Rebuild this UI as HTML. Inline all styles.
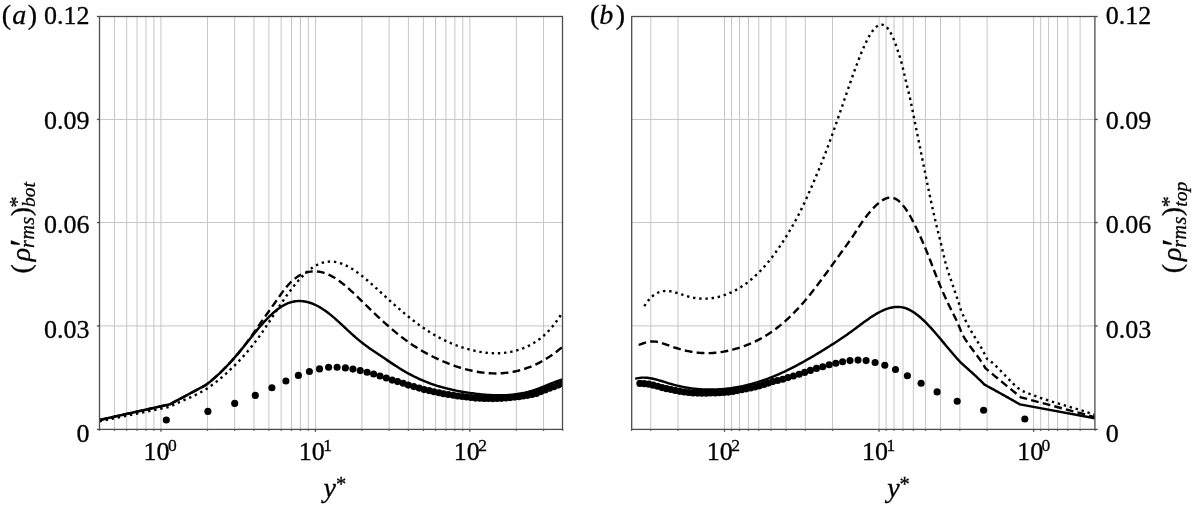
<!DOCTYPE html>
<html><head><meta charset="utf-8"><title>rho rms profiles</title>
<style>html,body{margin:0;padding:0;background:#fff;width:1195px;height:506px;overflow:hidden}svg{display:block}</style>
</head><body>
<svg width="1195" height="506" viewBox="0 0 1195 506">
<rect width="1195" height="506" fill="#fff"/>
<g stroke="#c6c6c6" stroke-width="1"><line x1="114.46" y1="16.5" x2="114.46" y2="429.4"/><line x1="126.69" y1="16.5" x2="126.69" y2="429.4"/><line x1="137.03" y1="16.5" x2="137.03" y2="429.4"/><line x1="145.98" y1="16.5" x2="145.98" y2="429.4"/><line x1="153.88" y1="16.5" x2="153.88" y2="429.4"/><line x1="160.95" y1="16.5" x2="160.95" y2="429.4"/><line x1="207.44" y1="16.5" x2="207.44" y2="429.4"/><line x1="234.64" y1="16.5" x2="234.64" y2="429.4"/><line x1="253.94" y1="16.5" x2="253.94" y2="429.4"/><line x1="268.91" y1="16.5" x2="268.91" y2="429.4"/><line x1="281.14" y1="16.5" x2="281.14" y2="429.4"/><line x1="291.48" y1="16.5" x2="291.48" y2="429.4"/><line x1="300.43" y1="16.5" x2="300.43" y2="429.4"/><line x1="308.33" y1="16.5" x2="308.33" y2="429.4"/><line x1="315.4" y1="16.5" x2="315.4" y2="429.4"/><line x1="361.89" y1="16.5" x2="361.89" y2="429.4"/><line x1="389.09" y1="16.5" x2="389.09" y2="429.4"/><line x1="408.39" y1="16.5" x2="408.39" y2="429.4"/><line x1="423.36" y1="16.5" x2="423.36" y2="429.4"/><line x1="435.59" y1="16.5" x2="435.59" y2="429.4"/><line x1="445.93" y1="16.5" x2="445.93" y2="429.4"/><line x1="454.88" y1="16.5" x2="454.88" y2="429.4"/><line x1="462.78" y1="16.5" x2="462.78" y2="429.4"/><line x1="469.85" y1="16.5" x2="469.85" y2="429.4"/><line x1="516.34" y1="16.5" x2="516.34" y2="429.4"/><line x1="543.54" y1="16.5" x2="543.54" y2="429.4"/><line x1="99.5" y1="325.95" x2="562.5" y2="325.95"/><line x1="99.5" y1="222.55" x2="562.5" y2="222.55"/><line x1="99.5" y1="119.45" x2="562.5" y2="119.45"/><line x1="1080.12" y1="16.5" x2="1080.12" y2="429.4"/><line x1="1067.89" y1="16.5" x2="1067.89" y2="429.4"/><line x1="1057.54" y1="16.5" x2="1057.54" y2="429.4"/><line x1="1048.58" y1="16.5" x2="1048.58" y2="429.4"/><line x1="1040.67" y1="16.5" x2="1040.67" y2="429.4"/><line x1="1033.6" y1="16.5" x2="1033.6" y2="429.4"/><line x1="987.08" y1="16.5" x2="987.08" y2="429.4"/><line x1="959.86" y1="16.5" x2="959.86" y2="429.4"/><line x1="940.55" y1="16.5" x2="940.55" y2="429.4"/><line x1="925.57" y1="16.5" x2="925.57" y2="429.4"/><line x1="913.34" y1="16.5" x2="913.34" y2="429.4"/><line x1="902.99" y1="16.5" x2="902.99" y2="429.4"/><line x1="894.03" y1="16.5" x2="894.03" y2="429.4"/><line x1="886.12" y1="16.5" x2="886.12" y2="429.4"/><line x1="879.05" y1="16.5" x2="879.05" y2="429.4"/><line x1="832.53" y1="16.5" x2="832.53" y2="429.4"/><line x1="805.31" y1="16.5" x2="805.31" y2="429.4"/><line x1="786" y1="16.5" x2="786" y2="429.4"/><line x1="771.02" y1="16.5" x2="771.02" y2="429.4"/><line x1="758.79" y1="16.5" x2="758.79" y2="429.4"/><line x1="748.44" y1="16.5" x2="748.44" y2="429.4"/><line x1="739.48" y1="16.5" x2="739.48" y2="429.4"/><line x1="731.57" y1="16.5" x2="731.57" y2="429.4"/><line x1="724.5" y1="16.5" x2="724.5" y2="429.4"/><line x1="677.98" y1="16.5" x2="677.98" y2="429.4"/><line x1="650.76" y1="16.5" x2="650.76" y2="429.4"/><line x1="631.7" y1="325.95" x2="1094.9" y2="325.95"/><line x1="631.7" y1="222.55" x2="1094.9" y2="222.55"/><line x1="631.7" y1="119.45" x2="1094.9" y2="119.45"/></g>
<defs><clipPath id="ca"><rect x="99.5" y="-13.5" width="463" height="442.9"/></clipPath><clipPath id="cb"><rect x="631.7" y="-13.5" width="463.2" height="442.9"/></clipPath></defs><g clip-path="url(#ca)"><path d="M99.5,421.2 170.1,406.7 171.6,405.92 173.1,405.17 174.59,404.44 176.09,403.73 177.59,403.03 179.09,402.35 180.58,401.68 182.08,401.01 183.58,400.36 185.08,399.7 186.57,399.04 188.07,398.38 189.57,397.71 191.07,397.04 192.57,396.35 194.06,395.64 195.56,394.92 197.06,394.18 198.56,393.42 200.05,392.63 201.55,391.81 203.05,390.96 204.55,390.07 206.05,389.15 207.54,388.19 209.04,387.19 210.54,386.15 212.04,385.08 213.53,383.97 215.03,382.83 216.53,381.66 218.03,380.46 219.52,379.23 221.02,377.97 222.52,376.68 224.02,375.37 225.52,374.03 227.01,372.67 228.51,371.29 230.01,369.88 231.51,368.46 233,367.01 234.5,365.53 236,364.03 237.5,362.51 238.99,360.96 240.49,359.37 241.99,357.76 243.49,356.11 244.99,354.43 246.48,352.72 247.98,350.97 249.48,349.18 250.98,347.36 252.47,345.49 253.97,343.58 255.47,341.63 256.97,339.64 258.46,337.6 259.96,335.51 261.46,333.38 262.96,331.21 264.46,329.01 265.95,326.77 267.45,324.52 268.95,322.24 270.45,319.95 271.94,317.65 273.44,315.35 274.94,313.05 276.44,310.76 277.94,308.47 279.43,306.21 280.93,303.96 282.43,301.75 283.93,299.56 285.42,297.4 286.92,295.28 288.42,293.2 289.92,291.17 291.41,289.18 292.91,287.23 294.41,285.35 295.91,283.52 297.41,281.75 298.9,280.04 300.4,278.39 301.9,276.81 303.4,275.29 304.89,273.84 306.39,272.47 307.89,271.16 309.39,269.93 310.88,268.78 312.38,267.71 313.88,266.72 315.38,265.81 316.88,264.98 318.37,264.25 319.87,263.6 321.37,263.04 322.87,262.57 324.36,262.2 325.86,261.91 327.36,261.71 328.86,261.59 330.35,261.55 331.85,261.59 333.35,261.71 334.85,261.91 336.35,262.18 337.84,262.52 339.34,262.93 340.84,263.4 342.34,263.94 343.83,264.55 345.33,265.21 346.83,265.93 348.33,266.71 349.83,267.54 351.32,268.42 352.82,269.35 354.32,270.33 355.82,271.34 357.31,272.4 358.81,273.5 360.31,274.63 361.81,275.8 363.3,276.99 364.8,278.22 366.3,279.47 367.8,280.74 369.3,282.04 370.79,283.35 372.29,284.68 373.79,286.02 375.29,287.37 376.78,288.74 378.28,290.1 379.78,291.48 381.28,292.85 382.77,294.22 384.27,295.59 385.77,296.96 387.27,298.32 388.77,299.67 390.26,301.02 391.76,302.37 393.26,303.7 394.76,305.03 396.25,306.35 397.75,307.66 399.25,308.96 400.75,310.25 402.25,311.53 403.74,312.8 405.24,314.05 406.74,315.29 408.24,316.52 409.73,317.73 411.23,318.92 412.73,320.1 414.23,321.26 415.72,322.41 417.22,323.53 418.72,324.64 420.22,325.73 421.72,326.79 423.21,327.84 424.71,328.86 426.21,329.86 427.71,330.84 429.2,331.79 430.7,332.72 432.2,333.63 433.7,334.52 435.19,335.38 436.69,336.22 438.19,337.04 439.69,337.84 441.19,338.62 442.68,339.38 444.18,340.11 445.68,340.83 447.18,341.52 448.67,342.19 450.17,342.84 451.67,343.48 453.17,344.09 454.66,344.68 456.16,345.25 457.66,345.81 459.16,346.34 460.66,346.85 462.15,347.35 463.65,347.82 465.15,348.28 466.65,348.72 468.14,349.14 469.64,349.54 471.14,349.93 472.64,350.29 474.14,350.64 475.63,350.97 477.13,351.28 478.63,351.57 480.13,351.84 481.62,352.09 483.12,352.31 484.62,352.52 486.12,352.7 487.61,352.85 489.11,352.98 490.61,353.09 492.11,353.17 493.61,353.23 495.1,353.26 496.6,353.26 498.1,353.24 499.6,353.19 501.09,353.1 502.59,352.99 504.09,352.85 505.59,352.68 507.08,352.48 508.58,352.24 510.08,351.98 511.58,351.68 513.08,351.34 514.57,350.98 516.07,350.58 517.57,350.14 519.07,349.67 520.56,349.16 522.06,348.61 523.56,348.03 525.06,347.41 526.55,346.75 528.05,346.05 529.55,345.31 531.05,344.52 532.55,343.69 534.04,342.8 535.54,341.86 537.04,340.86 538.54,339.8 540.03,338.68 541.53,337.49 543.03,336.23 544.53,334.91 546.03,333.5 547.52,332.02 549.02,330.46 550.52,328.82 552.02,327.09 553.51,325.26 555.01,323.35 556.51,321.34 558.01,319.24 559.5,317.03 561,314.72 562.5,312.3" fill="none" stroke="#000" stroke-width="2.4" stroke-dasharray="2.4 3.8"/><path d="M99.5,420 170.1,404.2 205.6,385.2 207.1,384.02 208.6,382.81 210.1,381.58 211.6,380.33 213.1,379.05 214.6,377.75 216.1,376.42 217.6,375.07 219.1,373.69 220.6,372.28 222.1,370.84 223.59,369.37 225.09,367.88 226.59,366.35 228.09,364.79 229.59,363.2 231.09,361.58 232.59,359.92 234.09,358.23 235.59,356.51 237.09,354.75 238.59,352.95 240.09,351.12 241.59,349.25 243.09,347.34 244.59,345.39 246.09,343.4 247.59,341.38 249.09,339.32 250.59,337.23 252.09,335.12 253.59,332.99 255.09,330.85 256.59,328.71 258.09,326.56 259.58,324.41 261.08,322.27 262.58,320.14 264.08,318.02 265.58,315.9 267.08,313.79 268.58,311.68 270.08,309.57 271.58,307.46 273.08,305.34 274.58,303.22 276.08,301.09 277.58,298.96 279.08,296.83 280.58,294.72 282.08,292.66 283.58,290.65 285.08,288.72 286.58,286.87 288.08,285.13 289.58,283.5 291.08,281.98 292.58,280.58 294.08,279.29 295.57,278.11 297.07,277.03 298.57,276.05 300.07,275.17 301.57,274.39 303.07,273.7 304.57,273.11 306.07,272.61 307.57,272.2 309.07,271.87 310.57,271.62 312.07,271.46 313.57,271.37 315.07,271.36 316.57,271.43 318.07,271.57 319.57,271.79 321.07,272.08 322.57,272.44 324.07,272.88 325.57,273.39 327.07,273.96 328.57,274.6 330.07,275.31 331.56,276.09 333.06,276.93 334.56,277.83 336.06,278.78 337.56,279.79 339.06,280.85 340.56,281.95 342.06,283.1 343.56,284.3 345.06,285.53 346.56,286.8 348.06,288.1 349.56,289.43 351.06,290.79 352.56,292.17 354.06,293.58 355.56,295 357.06,296.44 358.56,297.9 360.06,299.36 361.56,300.83 363.06,302.3 364.56,303.78 366.06,305.25 367.55,306.72 369.05,308.18 370.55,309.64 372.05,311.08 373.55,312.52 375.05,313.95 376.55,315.36 378.05,316.77 379.55,318.17 381.05,319.55 382.55,320.92 384.05,322.28 385.55,323.62 387.05,324.96 388.55,326.27 390.05,327.57 391.55,328.86 393.05,330.13 394.55,331.38 396.05,332.62 397.55,333.83 399.05,335.03 400.55,336.21 402.04,337.37 403.54,338.51 405.04,339.63 406.54,340.73 408.04,341.81 409.54,342.86 411.04,343.89 412.54,344.91 414.04,345.9 415.54,346.87 417.04,347.82 418.54,348.75 420.04,349.66 421.54,350.55 423.04,351.42 424.54,352.27 426.04,353.11 427.54,353.92 429.04,354.72 430.54,355.5 432.04,356.26 433.54,357.01 435.04,357.73 436.54,358.44 438.03,359.14 439.53,359.82 441.03,360.48 442.53,361.13 444.03,361.76 445.53,362.38 447.03,362.98 448.53,363.57 450.03,364.14 451.53,364.7 453.03,365.25 454.53,365.78 456.03,366.29 457.53,366.79 459.03,367.28 460.53,367.74 462.03,368.2 463.53,368.63 465.03,369.05 466.53,369.45 468.03,369.83 469.53,370.2 471.03,370.54 472.53,370.87 474.02,371.18 475.52,371.47 477.02,371.75 478.52,372 480.02,372.23 481.52,372.45 483.02,372.64 484.52,372.81 486.02,372.97 487.52,373.1 489.02,373.21 490.52,373.29 492.02,373.36 493.52,373.41 495.02,373.43 496.52,373.43 498.02,373.4 499.52,373.36 501.02,373.29 502.52,373.19 504.02,373.07 505.52,372.93 507.02,372.76 508.52,372.57 510.01,372.36 511.51,372.11 513.01,371.84 514.51,371.55 516.01,371.23 517.51,370.88 519.01,370.51 520.51,370.11 522.01,369.68 523.51,369.23 525.01,368.74 526.51,368.23 528.01,367.69 529.51,367.12 531.01,366.52 532.51,365.9 534.01,365.24 535.51,364.56 537.01,363.84 538.51,363.09 540.01,362.32 541.51,361.51 543.01,360.67 544.51,359.8 546,358.9 547.5,357.96 549,356.99 550.5,356 552,354.96 553.5,353.9 555,352.8 556.5,351.67 558,350.5 559.5,349.3 561,348.07 562.5,346.8" fill="none" stroke="#000" stroke-width="2.4" stroke-dasharray="7.8 4.2"/><path d="M99.5,420 170.1,404.2 205.6,385.2 207.1,384.07 208.6,382.9 210.1,381.7 211.6,380.46 213.1,379.19 214.6,377.89 216.1,376.55 217.6,375.18 219.1,373.78 220.6,372.35 222.1,370.88 223.59,369.39 225.09,367.86 226.59,366.31 228.09,364.73 229.59,363.12 231.09,361.48 232.59,359.81 234.09,358.12 235.59,356.4 237.09,354.66 238.59,352.89 240.09,351.09 241.59,349.27 243.09,347.43 244.59,345.57 246.09,343.7 247.59,341.81 249.09,339.93 250.59,338.05 252.09,336.17 253.59,334.31 255.09,332.46 256.59,330.63 258.09,328.83 259.58,327.06 261.08,325.33 262.58,323.63 264.08,321.97 265.58,320.35 267.08,318.78 268.58,317.26 270.08,315.79 271.58,314.37 273.08,313.01 274.58,311.72 276.08,310.48 277.58,309.31 279.08,308.21 280.58,307.18 282.08,306.23 283.58,305.36 285.08,304.56 286.58,303.85 288.08,303.22 289.58,302.67 291.08,302.21 292.58,301.82 294.08,301.51 295.57,301.28 297.07,301.13 298.57,301.05 300.07,301.04 301.57,301.11 303.07,301.25 304.57,301.46 306.07,301.73 307.57,302.08 309.07,302.49 310.57,302.96 312.07,303.5 313.57,304.1 315.07,304.76 316.57,305.49 318.07,306.27 319.57,307.11 321.07,308 322.57,308.95 324.07,309.94 325.57,310.99 327.07,312.08 328.57,313.22 330.07,314.4 331.56,315.62 333.06,316.87 334.56,318.16 336.06,319.48 337.56,320.83 339.06,322.19 340.56,323.57 342.06,324.96 343.56,326.36 345.06,327.75 346.56,329.15 348.06,330.54 349.56,331.92 351.06,333.29 352.56,334.65 354.06,335.99 355.56,337.31 357.06,338.6 358.56,339.87 360.06,341.12 361.56,342.32 363.06,343.5 364.56,344.64 366.06,345.75 367.55,346.84 369.05,347.91 370.55,348.95 372.05,349.99 373.55,351.01 375.05,352.02 376.55,353.03 378.05,354.04 379.55,355.04 381.05,356.06 382.55,357.07 384.05,358.09 385.55,359.1 387.05,360.12 388.55,361.13 390.05,362.13 391.55,363.13 393.05,364.13 394.55,365.11 396.05,366.08 397.55,367.04 399.05,367.99 400.55,368.92 402.04,369.84 403.54,370.74 405.04,371.62 406.54,372.48 408.04,373.32 409.54,374.13 411.04,374.93 412.54,375.71 414.04,376.47 415.54,377.21 417.04,377.92 418.54,378.62 420.04,379.3 421.54,379.97 423.04,380.61 424.54,381.23 426.04,381.84 427.54,382.42 429.04,382.99 430.54,383.54 432.04,384.08 433.54,384.59 435.04,385.1 436.54,385.58 438.03,386.05 439.53,386.5 441.03,386.94 442.53,387.37 444.03,387.77 445.53,388.17 447.03,388.55 448.53,388.92 450.03,389.28 451.53,389.62 453.03,389.95 454.53,390.27 456.03,390.58 457.53,390.87 459.03,391.16 460.53,391.43 462.03,391.7 463.53,391.95 465.03,392.2 466.53,392.43 468.03,392.66 469.53,392.88 471.03,393.09 472.53,393.3 474.02,393.49 475.52,393.68 477.02,393.86 478.52,394.04 480.02,394.2 481.52,394.36 483.02,394.5 484.52,394.64 486.02,394.77 487.52,394.88 489.02,394.99 490.52,395.08 492.02,395.15 493.52,395.22 495.02,395.27 496.52,395.31 498.02,395.33 499.52,395.34 501.02,395.33 502.52,395.31 504.02,395.27 505.52,395.21 507.02,395.13 508.52,395.04 510.01,394.93 511.51,394.79 513.01,394.64 514.51,394.47 516.01,394.28 517.51,394.06 519.01,393.83 520.51,393.57 522.01,393.29 523.51,392.98 525.01,392.66 526.51,392.3 528.01,391.93 529.51,391.52 531.01,391.09 532.51,390.64 534.01,390.16 535.51,389.65 537.01,389.11 538.51,388.56 540.01,387.98 541.51,387.4 543.01,386.8 544.51,386.19 546,385.58 547.5,384.96 549,384.35 550.5,383.74 552,383.15 553.5,382.56 555,381.99 556.5,381.44 558,380.92 559.5,380.41 561,379.94 562.5,379.5" fill="none" stroke="#000" stroke-width="2.45" stroke-linejoin="round"/><g fill="#000"><circle cx="166.3" cy="420" r="3.55"/><circle cx="207.9" cy="411.4" r="3.55"/><circle cx="234.7" cy="403.4" r="3.55"/><circle cx="255.3" cy="395.4" r="3.55"/><circle cx="271.9" cy="387.7" r="3.55"/><circle cx="285.9" cy="381" r="3.55"/><circle cx="298.4" cy="375.4" r="3.55"/><circle cx="309.4" cy="371.5" r="3.55"/><circle cx="319.5" cy="368.9" r="3.55"/><circle cx="328.6" cy="367.3" r="3.55"/><circle cx="337.1" cy="367.3" r="3.55"/><circle cx="345.4" cy="367.9" r="3.55"/><circle cx="352.9" cy="369.1" r="3.55"/><circle cx="360.2" cy="370.6" r="3.55"/><circle cx="367.1" cy="372.2" r="3.55"/><circle cx="373.6" cy="374" r="3.55"/><circle cx="380" cy="376" r="3.55"/><circle cx="386.3" cy="378" r="3.55"/><circle cx="392.2" cy="380.1" r="3.55"/><circle cx="397.6" cy="381.6" r="3.55"/><circle cx="403.2" cy="383.2" r="3.55"/><circle cx="408.3" cy="385.1" r="3.55"/><circle cx="413.8" cy="386.6" r="3.55"/><circle cx="419.2" cy="388.1" r="3.55"/><circle cx="424.1" cy="389.6" r="3.55"/><circle cx="429.1" cy="390.6" r="3.55"/><circle cx="434" cy="391.7" r="3.55"/><circle cx="439" cy="392.8" r="3.55"/><circle cx="443.4" cy="393.7" r="3.55"/><circle cx="448.3" cy="394.5" r="3.55"/><circle cx="453.3" cy="395.3" r="3.55"/><circle cx="457.7" cy="396" r="3.55"/><circle cx="462.2" cy="396.5" r="3.55"/><circle cx="466.6" cy="397" r="3.55"/><circle cx="471" cy="397.5" r="3.55"/><circle cx="475.36" cy="398.12" r="3.55"/><circle cx="479.71" cy="398.31" r="3.55"/><circle cx="484.07" cy="398.45" r="3.55"/><circle cx="488.43" cy="398.55" r="3.55"/><circle cx="492.79" cy="398.59" r="3.55"/><circle cx="497.14" cy="398.57" r="3.55"/><circle cx="501.5" cy="398.37" r="3.55"/><circle cx="505.86" cy="398.02" r="3.55"/><circle cx="510.21" cy="397.58" r="3.55"/><circle cx="514.57" cy="397.11" r="3.55"/><circle cx="518.93" cy="396.63" r="3.55"/><circle cx="523.29" cy="396.06" r="3.55"/><circle cx="527.64" cy="395.37" r="3.55"/><circle cx="532" cy="394.52" r="3.55"/><circle cx="536.36" cy="393.38" r="3.55"/><circle cx="540.71" cy="391.6" r="3.55"/><circle cx="545.07" cy="389.88" r="3.55"/><circle cx="549.43" cy="388.27" r="3.55"/><circle cx="553.79" cy="386.68" r="3.55"/><circle cx="558.14" cy="385.12" r="3.55"/><circle cx="562.5" cy="383.6" r="3.55"/></g></g><g clip-path="url(#cb)"><path d="M644.3,306.2 645.79,303.89 647.29,301.8 648.78,299.93 650.27,298.27 651.76,296.81 653.26,295.53 654.75,294.43 656.24,293.5 657.74,292.73 659.23,292.11 660.72,291.64 662.22,291.29 663.71,291.07 665.2,290.95 666.69,290.95 668.19,291.03 669.68,291.2 671.17,291.44 672.67,291.75 674.16,292.12 675.65,292.53 677.14,292.98 678.64,293.45 680.13,293.95 681.62,294.45 683.12,294.95 684.61,295.44 686.1,295.91 687.59,296.35 689.09,296.76 690.58,297.13 692.07,297.45 693.57,297.74 695.06,297.99 696.55,298.2 698.05,298.38 699.54,298.51 701.03,298.61 702.52,298.67 704.02,298.69 705.51,298.67 707,298.61 708.5,298.52 709.99,298.39 711.48,298.21 712.97,298 714.47,297.76 715.96,297.47 717.45,297.15 718.95,296.79 720.44,296.39 721.93,295.95 723.42,295.48 724.92,294.96 726.41,294.41 727.9,293.83 729.4,293.2 730.89,292.54 732.38,291.84 733.88,291.1 735.37,290.32 736.86,289.5 738.35,288.64 739.85,287.74 741.34,286.8 742.83,285.82 744.33,284.79 745.82,283.73 747.31,282.61 748.8,281.46 750.3,280.25 751.79,279 753.28,277.71 754.78,276.37 756.27,274.98 757.76,273.54 759.26,272.05 760.75,270.51 762.24,268.92 763.73,267.28 765.23,265.59 766.72,263.85 768.21,262.05 769.71,260.21 771.2,258.31 772.69,256.36 774.18,254.37 775.68,252.32 777.17,250.22 778.66,248.08 780.16,245.89 781.65,243.64 783.14,241.36 784.63,239.02 786.13,236.64 787.62,234.21 789.11,231.73 790.61,229.21 792.1,226.64 793.59,224.01 795.09,221.33 796.58,218.58 798.07,215.75 799.56,212.85 801.06,209.86 802.55,206.78 804.04,203.61 805.54,200.37 807.03,197.06 808.52,193.71 810.01,190.32 811.51,186.9 813,183.46 814.49,179.98 815.99,176.46 817.48,172.91 818.97,169.3 820.47,165.65 821.96,161.94 823.45,158.17 824.94,154.33 826.44,150.43 827.93,146.46 829.42,142.42 830.92,138.33 832.41,134.18 833.9,129.98 835.39,125.74 836.89,121.47 838.38,117.16 839.87,112.84 841.37,108.49 842.86,104.14 844.35,99.78 845.84,95.43 847.34,91.1 848.83,86.79 850.32,82.51 851.82,78.27 853.31,74.09 854.8,69.96 856.3,65.9 857.79,61.92 859.28,58.04 860.77,54.28 862.27,50.65 863.76,47.19 865.25,43.89 866.75,40.79 868.24,37.91 869.73,35.25 871.22,32.85 872.72,30.72 874.21,28.87 875.7,27.34 877.2,26.13 878.69,25.26 880.18,24.77 881.67,24.65 883.17,24.92 884.66,25.61 886.15,26.72 887.65,28.26 889.14,30.25 890.63,32.71 892.13,35.65 893.62,39.06 895.11,42.91 896.6,47.1 898.1,51.54 899.59,56.18 901.08,61.13 902.58,66.74 904.07,73.15 905.56,79.65 907.05,85.78 908.55,91.87 910.04,98.33 911.53,105.38 913.03,112.81 914.52,120.35 916.01,127.78 917.51,135.12 919,142.46 920.49,149.85 921.98,157.27 923.48,164.69 924.97,172.08 926.46,179.42 927.96,186.69 929.45,193.85 930.94,200.89 932.43,207.77 933.93,214.47 935.42,220.97 936.91,227.23 938.41,233.3 939.9,239.32 941.39,245.45 942.88,251.82 944.38,258.3 945.87,264.22 947.36,269.33 948.86,273.87 950.35,278.15 951.84,282.51 953.34,286.97 954.83,291.39 956.32,295.68 957.81,300.01 959.31,304.64 960.8,309.8 962.26,313.35 963.71,316.68 965.17,319.8 966.62,322.74 968.08,325.53 969.53,328.19 970.99,330.74 972.44,333.21 973.9,335.62 975.36,338 976.81,340.38 978.27,342.76 979.72,345.19 981.18,347.69 982.63,350.27 984.09,352.97 985.54,355.8 987,358.8 988.48,359.77 989.96,360.84 991.43,362 992.91,363.24 994.39,364.55 995.87,365.93 997.35,367.36 998.83,368.84 1000.3,370.35 1001.78,371.89 1003.26,373.45 1004.74,375.02 1006.22,376.58 1007.7,378.14 1009.17,379.68 1010.65,381.2 1012.13,382.68 1013.61,384.11 1015.09,385.49 1016.57,386.81 1018.04,388.06 1019.52,389.22 1021,390.3 1022.48,390.95 1023.96,391.59 1025.43,392.21 1026.91,392.82 1028.39,393.42 1029.87,394 1031.35,394.57 1032.82,395.13 1034.3,395.68 1035.78,396.22 1037.26,396.75 1038.74,397.27 1040.21,397.78 1041.69,398.28 1043.17,398.77 1044.65,399.26 1046.13,399.74 1047.6,400.21 1049.08,400.67 1050.56,401.13 1052.04,401.59 1053.52,402.04 1054.99,402.49 1056.47,402.93 1057.95,403.37 1059.43,403.81 1060.91,404.25 1062.38,404.68 1063.86,405.11 1065.34,405.55 1066.82,405.98 1068.3,406.42 1069.77,406.85 1071.25,407.29 1072.73,407.73 1074.21,408.17 1075.69,408.61 1077.16,409.06 1078.64,409.51 1080.12,409.97 1081.6,410.43 1083.08,410.9 1084.55,411.37 1086.03,411.85 1087.51,412.34 1088.99,412.83 1090.47,413.34 1091.94,413.85 1093.42,414.37 1094.9,414.9" fill="none" stroke="#000" stroke-width="2.4" stroke-dasharray="2.4 3.8"/><path d="M638.7,345 640.2,344.38 641.69,343.8 643.19,343.26 644.68,342.78 646.18,342.36 647.68,342.01 649.17,341.74 650.67,341.55 652.16,341.46 653.66,341.47 655.15,341.58 656.65,341.79 658.15,342.08 659.64,342.44 661.14,342.86 662.63,343.33 664.13,343.83 665.62,344.36 667.12,344.91 668.62,345.46 670.11,346 671.61,346.52 673.1,347.03 674.6,347.52 676.1,348 677.59,348.45 679.09,348.89 680.58,349.31 682.08,349.71 683.58,350.1 685.07,350.46 686.57,350.8 688.06,351.12 689.56,351.42 691.05,351.7 692.55,351.95 694.05,352.18 695.54,352.39 697.04,352.58 698.53,352.74 700.03,352.88 701.52,352.99 703.02,353.07 704.52,353.13 706.01,353.17 707.51,353.17 709,353.15 710.5,353.11 712,353.03 713.49,352.94 714.99,352.81 716.48,352.67 717.98,352.49 719.48,352.3 720.97,352.08 722.47,351.84 723.96,351.58 725.46,351.29 726.95,350.98 728.45,350.66 729.95,350.31 731.44,349.94 732.94,349.55 734.43,349.15 735.93,348.72 737.42,348.28 738.92,347.82 740.42,347.33 741.91,346.83 743.41,346.31 744.9,345.77 746.4,345.21 747.9,344.63 749.39,344.02 750.89,343.39 752.38,342.73 753.88,342.05 755.38,341.35 756.87,340.62 758.37,339.86 759.86,339.07 761.36,338.26 762.85,337.42 764.35,336.55 765.85,335.65 767.34,334.72 768.84,333.76 770.33,332.76 771.83,331.73 773.33,330.67 774.82,329.58 776.32,328.46 777.81,327.3 779.31,326.11 780.8,324.89 782.3,323.64 783.8,322.35 785.29,321.03 786.79,319.68 788.28,318.3 789.78,316.88 791.27,315.43 792.77,313.95 794.27,312.44 795.76,310.89 797.26,309.31 798.75,307.7 800.25,306.06 801.75,304.38 803.24,302.67 804.74,300.93 806.23,299.15 807.73,297.35 809.23,295.52 810.72,293.66 812.22,291.78 813.71,289.88 815.21,287.95 816.7,286 818.2,284.04 819.7,282.05 821.19,280.05 822.69,278.04 824.18,276.01 825.68,273.97 827.17,271.93 828.67,269.87 830.17,267.81 831.66,265.74 833.16,263.67 834.65,261.6 836.15,259.53 837.65,257.46 839.14,255.39 840.64,253.33 842.13,251.27 843.63,249.22 845.12,247.16 846.62,245.1 848.12,243.02 849.61,240.9 851.11,238.75 852.6,236.55 854.1,234.3 855.6,232.01 857.09,229.7 858.59,227.4 860.08,225.13 861.58,222.91 863.08,220.76 864.57,218.69 866.07,216.7 867.56,214.79 869.06,212.95 870.55,211.19 872.05,209.51 873.55,207.91 875.04,206.38 876.54,204.94 878.03,203.58 879.53,202.33 881.02,201.2 882.52,200.2 884.02,199.34 885.51,198.63 887.01,198.09 888.5,197.73 890,197.57 891.5,197.61 892.99,197.86 894.49,198.35 895.98,199.07 897.48,200.01 898.97,201.17 900.47,202.54 901.97,204.12 903.46,205.9 904.96,207.87 906.45,210.02 907.95,212.35 909.45,214.85 910.94,217.51 912.44,220.32 913.93,223.23 915.43,226.24 916.92,229.33 918.42,232.48 919.92,235.71 921.41,239.02 922.91,242.41 924.4,245.89 925.9,249.46 927.4,253.14 928.89,256.92 930.39,260.78 931.88,264.68 933.38,268.59 934.88,272.49 936.37,276.33 937.87,280.09 939.36,283.76 940.86,287.34 942.35,290.83 943.85,294.24 945.35,297.56 946.84,300.79 948.34,303.94 949.83,307.01 951.33,310 952.82,312.97 954.32,315.96 955.82,319.04 957.31,322.27 958.81,325.7 960.3,329.39 961.8,333.4 963.27,336.01 964.75,338.46 966.22,340.77 967.7,342.97 969.17,345.07 970.65,347.1 972.12,349.08 973.6,351.03 975.07,352.97 976.55,354.92 978.02,356.92 979.5,358.97 980.98,361.1 982.45,363.34 983.92,365.7 985.4,368.2 986.88,369.44 988.36,370.67 989.84,371.9 991.32,373.13 992.8,374.36 994.27,375.59 995.75,376.81 997.23,378.04 998.71,379.25 1000.19,380.47 1001.67,381.69 1003.15,382.9 1004.63,384.11 1006.11,385.32 1007.59,386.53 1009.07,387.73 1010.55,388.93 1012.02,390.14 1013.5,391.34 1014.98,392.53 1016.46,393.73 1017.94,394.92 1019.42,396.11 1020.9,397.3 1094.9,417.1" fill="none" stroke="#000" stroke-width="2.4" stroke-dasharray="7.8 4.2"/><path d="M635.2,378.8 636.69,378.41 638.19,378.1 639.68,377.88 641.17,377.73 642.67,377.65 644.16,377.64 645.66,377.7 647.15,377.81 648.64,377.98 650.14,378.2 651.63,378.46 653.12,378.77 654.62,379.11 656.11,379.48 657.6,379.88 659.1,380.31 660.59,380.75 662.08,381.21 663.58,381.68 665.07,382.15 666.57,382.62 668.06,383.09 669.55,383.55 671.05,384 672.54,384.43 674.03,384.84 675.53,385.24 677.02,385.61 678.51,385.97 680.01,386.31 681.5,386.64 682.99,386.94 684.49,387.23 685.98,387.5 687.48,387.76 688.97,387.99 690.46,388.21 691.96,388.42 693.45,388.6 694.94,388.77 696.44,388.92 697.93,389.06 699.42,389.18 700.92,389.29 702.41,389.38 703.9,389.45 705.4,389.51 706.89,389.55 708.39,389.58 709.88,389.59 711.37,389.58 712.87,389.56 714.36,389.53 715.85,389.48 717.35,389.42 718.84,389.34 720.33,389.25 721.83,389.14 723.32,389.01 724.81,388.88 726.31,388.72 727.8,388.56 729.3,388.37 730.79,388.18 732.28,387.97 733.78,387.74 735.27,387.5 736.76,387.24 738.26,386.97 739.75,386.69 741.24,386.39 742.74,386.08 744.23,385.75 745.72,385.41 747.22,385.05 748.71,384.68 750.21,384.29 751.7,383.89 753.19,383.48 754.69,383.05 756.18,382.61 757.67,382.15 759.17,381.68 760.66,381.19 762.15,380.69 763.65,380.18 765.14,379.65 766.63,379.11 768.13,378.55 769.62,377.98 771.12,377.4 772.61,376.8 774.1,376.19 775.6,375.56 777.09,374.92 778.58,374.27 780.08,373.61 781.57,372.93 783.06,372.24 784.56,371.54 786.05,370.83 787.54,370.11 789.04,369.37 790.53,368.63 792.03,367.87 793.52,367.11 795.01,366.33 796.51,365.55 798,364.75 799.49,363.95 800.99,363.13 802.48,362.31 803.97,361.48 805.47,360.64 806.96,359.79 808.46,358.94 809.95,358.08 811.44,357.21 812.94,356.33 814.43,355.45 815.92,354.56 817.42,353.66 818.91,352.76 820.4,351.85 821.9,350.94 823.39,350.02 824.88,349.09 826.38,348.16 827.87,347.23 829.37,346.29 830.86,345.34 832.35,344.39 833.85,343.43 835.34,342.46 836.83,341.49 838.33,340.5 839.82,339.51 841.31,338.51 842.81,337.5 844.3,336.48 845.79,335.45 847.29,334.41 848.78,333.35 850.28,332.29 851.77,331.21 853.26,330.12 854.76,329.02 856.25,327.91 857.74,326.8 859.24,325.68 860.73,324.57 862.22,323.46 863.72,322.36 865.21,321.27 866.7,320.2 868.2,319.14 869.69,318.11 871.19,317.1 872.68,316.12 874.17,315.18 875.67,314.26 877.16,313.39 878.65,312.55 880.15,311.77 881.64,311.02 883.13,310.33 884.63,309.69 886.12,309.11 887.61,308.59 889.11,308.14 890.6,307.75 892.1,307.43 893.59,307.18 895.08,307.01 896.58,306.91 898.07,306.9 899.56,306.98 901.06,307.14 902.55,307.4 904.04,307.75 905.54,308.2 907.03,308.75 908.52,309.39 910.02,310.13 911.51,310.95 913.01,311.86 914.5,312.85 915.99,313.91 917.49,315.05 918.98,316.26 920.47,317.53 921.97,318.87 923.46,320.26 924.95,321.7 926.45,323.2 927.94,324.74 929.43,326.32 930.93,327.94 932.42,329.6 933.92,331.29 935.41,333 936.9,334.74 938.4,336.5 939.89,338.27 941.38,340.05 942.88,341.85 944.37,343.64 945.86,345.44 947.36,347.23 948.85,349.02 950.34,350.8 951.84,352.56 953.33,354.3 954.83,356.02 956.32,357.71 957.81,359.38 959.31,361.01 960.8,362.6 962.28,363.93 963.76,365.25 965.24,366.58 966.72,367.91 968.21,369.23 969.69,370.55 971.17,371.88 972.65,373.22 974.13,374.59 975.61,375.97 977.09,377.37 978.58,378.79 980.06,380.22 981.54,381.66 983.02,383.12 984.5,384.6 985.98,385.4 987.45,386.21 988.92,387.01 990.4,387.82 991.88,388.63 993.35,389.44 994.83,390.26 996.3,391.07 997.77,391.89 999.25,392.71 1000.73,393.53 1002.2,394.36 1003.67,395.19 1005.15,396.01 1006.62,396.84 1008.1,397.68 1009.57,398.51 1011.05,399.34 1012.52,400.18 1014,401.02 1015.48,401.86 1016.95,402.71 1018.42,403.55 1019.9,404.4 1094.9,418.3" fill="none" stroke="#000" stroke-width="2.45" stroke-linejoin="round"/><g fill="#000"><circle cx="1024.8" cy="419" r="3.55"/><circle cx="983.6" cy="410.3" r="3.55"/><circle cx="957.2" cy="401.2" r="3.55"/><circle cx="937.1" cy="391.9" r="3.55"/><circle cx="921.1" cy="383.2" r="3.55"/><circle cx="907.4" cy="375.7" r="3.55"/><circle cx="895.5" cy="369.5" r="3.55"/><circle cx="884.8" cy="365.3" r="3.55"/><circle cx="875.1" cy="362.5" r="3.55"/><circle cx="866.1" cy="360.6" r="3.55"/><circle cx="858" cy="360.1" r="3.55"/><circle cx="850" cy="360.6" r="3.55"/><circle cx="842.6" cy="361.7" r="3.55"/><circle cx="835.8" cy="363.2" r="3.55"/><circle cx="829.2" cy="364.8" r="3.55"/><circle cx="822.7" cy="366.7" r="3.55"/><circle cx="816.5" cy="368.4" r="3.55"/><circle cx="810.4" cy="370.4" r="3.55"/><circle cx="804.6" cy="372.4" r="3.55"/><circle cx="799.1" cy="374.3" r="3.55"/><circle cx="793.4" cy="376" r="3.55"/><circle cx="787.9" cy="377.6" r="3.55"/><circle cx="782.8" cy="379.2" r="3.55"/><circle cx="777.6" cy="380.5" r="3.55"/><circle cx="772.7" cy="381.6" r="3.55"/><circle cx="768.27" cy="383.11" r="3.55"/><circle cx="763.85" cy="384.53" r="3.55"/><circle cx="759.42" cy="385.83" r="3.55"/><circle cx="754.99" cy="386.93" r="3.55"/><circle cx="750.57" cy="387.91" r="3.55"/><circle cx="746.14" cy="388.87" r="3.55"/><circle cx="741.71" cy="389.81" r="3.55"/><circle cx="737.29" cy="390.62" r="3.55"/><circle cx="732.86" cy="391.41" r="3.55"/><circle cx="728.43" cy="392.09" r="3.55"/><circle cx="724.01" cy="392.52" r="3.55"/><circle cx="719.58" cy="392.75" r="3.55"/><circle cx="715.15" cy="392.91" r="3.55"/><circle cx="710.73" cy="393.04" r="3.55"/><circle cx="706.3" cy="393.16" r="3.55"/><circle cx="701.87" cy="393.19" r="3.55"/><circle cx="697.45" cy="393.08" r="3.55"/><circle cx="693.02" cy="392.89" r="3.55"/><circle cx="688.59" cy="392.53" r="3.55"/><circle cx="684.17" cy="392.03" r="3.55"/><circle cx="679.74" cy="391.36" r="3.55"/><circle cx="675.31" cy="390.51" r="3.55"/><circle cx="670.89" cy="389.57" r="3.55"/><circle cx="666.46" cy="388.65" r="3.55"/><circle cx="662.03" cy="387.59" r="3.55"/><circle cx="657.61" cy="386.31" r="3.55"/><circle cx="653.18" cy="385.14" r="3.55"/><circle cx="648.75" cy="384.13" r="3.55"/><circle cx="644.33" cy="383.63" r="3.55"/><circle cx="639.9" cy="383.4" r="3.55"/></g></g>
<g stroke="#4d4d4d" stroke-width="1.3" fill="none"><rect x="99.5" y="16.5" width="463" height="412.9" fill="none"/><rect x="631.7" y="16.5" width="463.2" height="412.9" fill="none"/><line x1="96.9" y1="429.4" x2="99.5" y2="429.4"/><line x1="1094.9" y1="429.4" x2="1097.7" y2="429.4"/><line x1="96.9" y1="325.95" x2="99.5" y2="325.95"/><line x1="1094.9" y1="325.95" x2="1097.7" y2="325.95"/><line x1="96.9" y1="222.55" x2="99.5" y2="222.55"/><line x1="1094.9" y1="222.55" x2="1097.7" y2="222.55"/><line x1="96.9" y1="119.45" x2="99.5" y2="119.45"/><line x1="1094.9" y1="119.45" x2="1097.7" y2="119.45"/><line x1="96.9" y1="16.5" x2="99.5" y2="16.5"/><line x1="1094.9" y1="16.5" x2="1097.7" y2="16.5"/><line x1="99.49" y1="429.4" x2="99.49" y2="430.8"/><line x1="114.46" y1="429.4" x2="114.46" y2="430.8"/><line x1="126.69" y1="429.4" x2="126.69" y2="430.8"/><line x1="137.03" y1="429.4" x2="137.03" y2="430.8"/><line x1="145.98" y1="429.4" x2="145.98" y2="430.8"/><line x1="153.88" y1="429.4" x2="153.88" y2="430.8"/><line x1="160.95" y1="429.4" x2="160.95" y2="431.8"/><line x1="207.44" y1="429.4" x2="207.44" y2="430.8"/><line x1="234.64" y1="429.4" x2="234.64" y2="430.8"/><line x1="253.94" y1="429.4" x2="253.94" y2="430.8"/><line x1="268.91" y1="429.4" x2="268.91" y2="430.8"/><line x1="281.14" y1="429.4" x2="281.14" y2="430.8"/><line x1="291.48" y1="429.4" x2="291.48" y2="430.8"/><line x1="300.43" y1="429.4" x2="300.43" y2="430.8"/><line x1="308.33" y1="429.4" x2="308.33" y2="430.8"/><line x1="315.4" y1="429.4" x2="315.4" y2="431.8"/><line x1="361.89" y1="429.4" x2="361.89" y2="430.8"/><line x1="389.09" y1="429.4" x2="389.09" y2="430.8"/><line x1="408.39" y1="429.4" x2="408.39" y2="430.8"/><line x1="423.36" y1="429.4" x2="423.36" y2="430.8"/><line x1="435.59" y1="429.4" x2="435.59" y2="430.8"/><line x1="445.93" y1="429.4" x2="445.93" y2="430.8"/><line x1="454.88" y1="429.4" x2="454.88" y2="430.8"/><line x1="462.78" y1="429.4" x2="462.78" y2="430.8"/><line x1="469.85" y1="429.4" x2="469.85" y2="431.8"/><line x1="516.34" y1="429.4" x2="516.34" y2="430.8"/><line x1="543.54" y1="429.4" x2="543.54" y2="430.8"/><line x1="562.84" y1="429.4" x2="562.84" y2="430.8"/><line x1="1095.1" y1="429.4" x2="1095.1" y2="430.8"/><line x1="1080.12" y1="429.4" x2="1080.12" y2="430.8"/><line x1="1067.89" y1="429.4" x2="1067.89" y2="430.8"/><line x1="1057.54" y1="429.4" x2="1057.54" y2="430.8"/><line x1="1048.58" y1="429.4" x2="1048.58" y2="430.8"/><line x1="1040.67" y1="429.4" x2="1040.67" y2="430.8"/><line x1="1033.6" y1="429.4" x2="1033.6" y2="431.8"/><line x1="987.08" y1="429.4" x2="987.08" y2="430.8"/><line x1="959.86" y1="429.4" x2="959.86" y2="430.8"/><line x1="940.55" y1="429.4" x2="940.55" y2="430.8"/><line x1="925.57" y1="429.4" x2="925.57" y2="430.8"/><line x1="913.34" y1="429.4" x2="913.34" y2="430.8"/><line x1="902.99" y1="429.4" x2="902.99" y2="430.8"/><line x1="894.03" y1="429.4" x2="894.03" y2="430.8"/><line x1="886.12" y1="429.4" x2="886.12" y2="430.8"/><line x1="879.05" y1="429.4" x2="879.05" y2="431.8"/><line x1="832.53" y1="429.4" x2="832.53" y2="430.8"/><line x1="805.31" y1="429.4" x2="805.31" y2="430.8"/><line x1="786" y1="429.4" x2="786" y2="430.8"/><line x1="771.02" y1="429.4" x2="771.02" y2="430.8"/><line x1="758.79" y1="429.4" x2="758.79" y2="430.8"/><line x1="748.44" y1="429.4" x2="748.44" y2="430.8"/><line x1="739.48" y1="429.4" x2="739.48" y2="430.8"/><line x1="731.57" y1="429.4" x2="731.57" y2="430.8"/><line x1="724.5" y1="429.4" x2="724.5" y2="431.8"/><line x1="677.98" y1="429.4" x2="677.98" y2="430.8"/><line x1="650.76" y1="429.4" x2="650.76" y2="430.8"/><line x1="631.45" y1="429.4" x2="631.45" y2="430.8"/></g>
<g font-family="'Liberation Serif', 'Times New Roman', serif" fill="#000" stroke="#000" stroke-width="0.3"><text x="89.6" y="24.35" font-size="26" text-anchor="end">0.12</text><text x="1105.8" y="24.35" font-size="26" text-anchor="start">0.12</text><text x="89.6" y="129.35" font-size="26" text-anchor="end">0.09</text><text x="1105.8" y="129.35" font-size="26" text-anchor="start">0.09</text><text x="89.6" y="233.25" font-size="26" text-anchor="end">0.06</text><text x="1105.8" y="233.25" font-size="26" text-anchor="start">0.06</text><text x="89.6" y="337.75" font-size="26" text-anchor="end">0.03</text><text x="1105.8" y="337.75" font-size="26" text-anchor="start">0.03</text><text x="89.6" y="441.75" font-size="26" text-anchor="end">0</text><text x="1105.8" y="441.75" font-size="26" text-anchor="start">0</text><text x="143.6" y="460.3" font-size="26">10<tspan dx="-1.6" dy="-9.5" font-size="17.5">0</tspan></text><text x="298.8" y="460.3" font-size="26">10<tspan dx="-1.6" dy="-9.5" font-size="17.5">1</tspan></text><text x="453.8" y="460.3" font-size="26">10<tspan dx="-1.6" dy="-9.5" font-size="17.5">2</tspan></text><text x="706.8" y="460.3" font-size="26">10<tspan dx="-1.6" dy="-9.5" font-size="17.5">2</tspan></text><text x="862" y="460.3" font-size="26">10<tspan dx="-1.6" dy="-9.5" font-size="17.5">1</tspan></text><text x="1017.2" y="460.3" font-size="26">10<tspan dx="-1.6" dy="-9.5" font-size="17.5">0</tspan></text><text x="323.6" y="497.2" font-size="28" text-anchor="start" font-style="italic">y</text><text x="335.9" y="491.1" font-size="20.5" text-anchor="start">*</text><text x="887.35" y="497.2" font-size="28" text-anchor="start" font-style="italic">y</text><text x="899.4" y="491.1" font-size="20.5" text-anchor="start">*</text><text x="1.87" y="23.94" font-size="28" text-anchor="start">(</text><text x="12.3" y="23.94" font-size="28" text-anchor="start" font-style="italic">a</text><text x="27.8" y="23.94" font-size="28" text-anchor="start">)</text><text x="589.97" y="23.94" font-size="28" text-anchor="start">(</text><text x="599.3" y="23.94" font-size="28" text-anchor="start" font-style="italic">b</text><text x="615.8" y="23.94" font-size="28" text-anchor="start">)</text><g transform="translate(29.64,273.4) rotate(-90)"><text x="0" y="0" font-size="28">(</text><text x="12.2" y="0" font-size="28" font-style="italic">&#961;</text><text x="24.7" y="5.2" font-size="36" font-style="italic">&#8242;</text><text x="25.5" y="4.8" font-size="20" font-style="italic" letter-spacing="0.5">rms</text><text x="57.1" y="0" font-size="28">)</text><text x="65.9" y="-5.9" font-size="22">*</text><text x="66.5" y="5.1" font-size="19.5" font-style="italic">bot</text></g><g transform="translate(1181.44,273.23) rotate(-90)"><text x="0" y="0" font-size="28">(</text><text x="12.2" y="0" font-size="28" font-style="italic">&#961;</text><text x="24.7" y="5.2" font-size="36" font-style="italic">&#8242;</text><text x="25.5" y="4.8" font-size="20" font-style="italic" letter-spacing="0.5">rms</text><text x="57.1" y="0" font-size="28">)</text><text x="65.9" y="-5.9" font-size="22">*</text><text x="66.5" y="5.1" font-size="19.5" font-style="italic">top</text></g></g>
</svg>
</body></html>
